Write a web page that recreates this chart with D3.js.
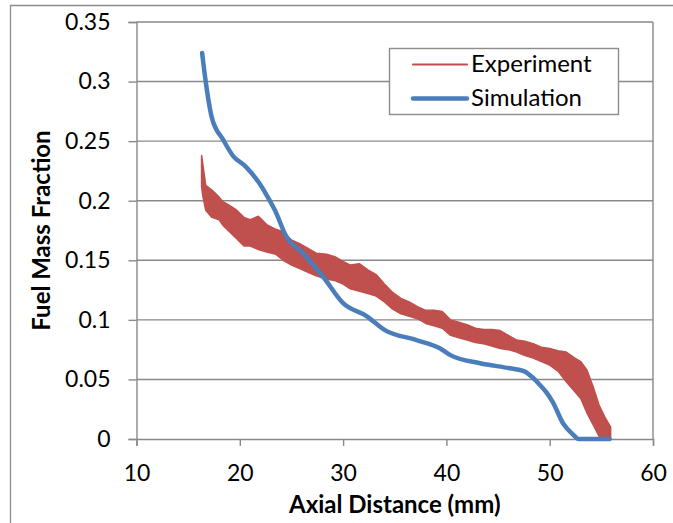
<!DOCTYPE html>
<html>
<head>
<meta charset="utf-8">
<script src="https://cdn.jsdelivr.net/npm/d3@7"></script>
<style>
  html, body { margin: 0; padding: 0; background: #fff; }
  svg { display: block; }
  text { font-family: Lato, "Open Sans", sans-serif; fill: #000; }
</style>
</head>
<body>
<svg id="chart" width="673" height="523"></svg>
<script>
// ---- data ----
const xTicks = [10, 20, 30, 40, 50, 60];
const yTicks = [0, 0.05, 0.1, 0.15, 0.2, 0.25, 0.3, 0.35];
const yTickLabels = ["0", "0.05", "0.1", "0.15", "0.2", "0.25", "0.3", "0.35"];
const seriesNames = ["Experiment", "Simulation"];

// Experiment: noisy measured signal shown as a band (upper/lower envelope)
const expX = [16.3, 16.4, 16.7, 17.3, 18.0, 18.4, 19.0, 19.7, 20.4, 21.0, 21.8, 22.6, 23.5, 24.2, 25.0, 25.8, 26.6, 27.4, 28.4, 29.2, 30.0, 30.7, 31.6, 32.4, 33.2, 34.0, 34.8, 35.6, 36.4, 37.2, 38.0, 38.8, 39.6, 40.4, 41.2, 42.0, 42.8, 43.6, 44.4, 45.2, 46.0, 46.8, 47.6, 48.4, 49.2, 50.0, 50.8, 51.6, 52.4, 53.0, 53.6, 54.2, 54.8, 55.3, 55.9];
const expUpper = [0.238, 0.232, 0.213, 0.209, 0.203, 0.199, 0.196, 0.192, 0.186, 0.184, 0.187, 0.180, 0.176, 0.174, 0.167, 0.164, 0.160, 0.156, 0.155, 0.153, 0.149, 0.146, 0.147, 0.142, 0.138, 0.130, 0.123, 0.118, 0.115, 0.111, 0.108, 0.108, 0.107, 0.100, 0.098, 0.096, 0.093, 0.092, 0.092, 0.091, 0.087, 0.083, 0.082, 0.080, 0.077, 0.076, 0.074, 0.073, 0.068, 0.065, 0.058, 0.044, 0.028, 0.019, 0.010];
const expLower = [0.212, 0.205, 0.192, 0.186, 0.184, 0.179, 0.174, 0.168, 0.162, 0.162, 0.159, 0.157, 0.155, 0.150, 0.146, 0.143, 0.140, 0.137, 0.134, 0.133, 0.130, 0.126, 0.124, 0.122, 0.120, 0.115, 0.109, 0.105, 0.103, 0.101, 0.097, 0.095, 0.093, 0.087, 0.085, 0.083, 0.081, 0.080, 0.078, 0.076, 0.075, 0.073, 0.070, 0.068, 0.065, 0.062, 0.057, 0.048, 0.040, 0.034, 0.022, 0.012, 0.002, 0.0, 0.0];

// Simulation
const simX = [16.35, 16.7, 17.3, 18.4, 19.4, 20.4, 21.15, 22.1, 22.9, 23.4, 24.5, 26.1, 28.05, 30.0, 32.3, 34.0, 37.1, 39.4, 40.35, 43.25, 46.15, 47.5, 48.3, 49.05, 49.7, 50.3, 51.3, 52.3, 52.8, 55.8];
const simY = [0.324, 0.300, 0.2695, 0.251, 0.237, 0.230, 0.223, 0.212, 0.200, 0.192, 0.170, 0.156, 0.1364, 0.114, 0.103, 0.0916, 0.083, 0.076, 0.0706, 0.0636, 0.0594, 0.057, 0.052, 0.0454, 0.039, 0.031, 0.013, 0.0034, 0, 0];

// ---- layout ----
const svg = d3.select("#chart");
const pLeft = 136.5, pRight = 653, pTop = 22, pBottom = 439;
const gridColor = "#898989";
const expColor = "#c0504d";
const simColor = "#4a7ebb";

const x = d3.scaleLinear().domain([10, 60]).range([pLeft, pRight]);
const y = d3.scaleLinear().domain([0, 0.35]).range([pBottom, pTop]);

// outer chart frame
svg.append("path")
  .attr("d", `M10.5,530 L10.5,5.5 L680,5.5`)
  .attr("fill", "none").attr("stroke", "#8c8c8c").attr("stroke-width", 1.3);

// horizontal gridlines
svg.append("g").selectAll("line").data(yTicks.slice(1)).join("line")
  .attr("x1", pLeft).attr("x2", pRight)
  .attr("y1", d => y(d)).attr("y2", d => y(d))
  .attr("stroke", gridColor).attr("stroke-width", 1.4);

// right border
svg.append("line").attr("x1", pRight).attr("x2", pRight).attr("y1", pTop).attr("y2", pBottom)
  .attr("stroke", gridColor).attr("stroke-width", 1.4);

// Y axis
const yAxis = d3.axisLeft(y).tickValues(yTicks).tickSize(8).tickPadding(18)
  .tickFormat((d, i) => yTickLabels[i]);
const gy = svg.append("g").attr("transform", `translate(${pLeft},0)`).call(yAxis);
gy.select(".domain").attr("stroke", gridColor).attr("stroke-width", 1.4);
gy.selectAll(".tick line").attr("stroke", gridColor).attr("stroke-width", 1.4);
gy.selectAll(".tick text").attr("font-size", 23).attr("font-family", "Lato").attr("fill", "#000");

// X axis
const xAxis = d3.axisBottom(x).tickValues(xTicks).tickSize(7).tickPadding(19);
const gx = svg.append("g").attr("transform", `translate(0,${pBottom})`).call(xAxis);
gx.select(".domain").attr("stroke", gridColor).attr("stroke-width", 1.4);
gx.selectAll(".tick line").attr("stroke", gridColor).attr("stroke-width", 1.4);
gx.selectAll(".tick text").attr("font-size", 23).attr("font-family", "Lato").attr("fill", "#000");

// Axis titles
svg.append("text").attr("x", (pLeft + pRight) / 2).attr("y", 513)
  .attr("text-anchor", "middle").attr("font-size", 24).attr("font-weight", "bold")
  .text("Axial Distance (mm)");
svg.append("text").attr("transform", `translate(50,${(pTop + pBottom) / 2}) rotate(-90)`)
  .attr("text-anchor", "middle").attr("font-size", 24).attr("font-weight", "bold")
  .text("Fuel Mass Fraction");

// Experiment band
const expData = expX.map((v, i) => ({x: v, u: expUpper[i], l: expLower[i]}));
const area = d3.area().x(d => x(d.x)).y0(d => y(d.l)).y1(d => y(d.u));
svg.append("path").datum(expData).attr("d", area)
  .attr("fill", expColor).attr("stroke", expColor).attr("stroke-width", 1.5).attr("stroke-linejoin", "round");

// Simulation line
const simData = simX.map((v, i) => ({x: v, y: simY[i]}));
const line = d3.line().x(d => x(d.x)).y(d => y(d.y)).curve(d3.curveMonotoneX);
svg.append("path").datum(simData).attr("d", line)
  .attr("fill", "none").attr("stroke", simColor).attr("stroke-width", 4.5)
  .attr("stroke-linejoin", "round").attr("stroke-linecap", "round");

// Legend
const lg = svg.append("g");
lg.append("rect").attr("x", 389.5).attr("y", 48.5).attr("width", 229).attr("height", 66)
  .attr("fill", "#fff").attr("stroke", "#8c8c8c").attr("stroke-width", 1.4);
const legendRows = [
  {name: seriesNames[0], color: expColor, w: 2.2, y: 64.5},
  {name: seriesNames[1], color: simColor, w: 4.5, y: 98.5}
];
legendRows.forEach(r => {
  lg.append("line").attr("x1", 413).attr("x2", 467).attr("y1", r.y).attr("y2", r.y)
    .attr("stroke", r.color).attr("stroke-width", r.w).attr("stroke-linecap", "round");
  lg.append("text").attr("x", 471).attr("y", r.y + 7.5).attr("font-size", 24).text(r.name);
});
</script>
</body>
</html>
